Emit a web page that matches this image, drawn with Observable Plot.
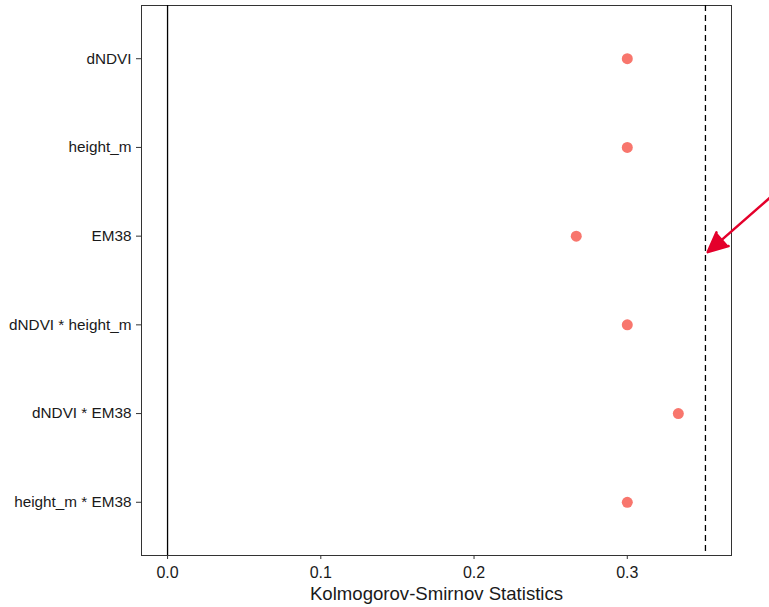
<!DOCTYPE html>
<html><head><meta charset="utf-8">
<script src="https://cdn.jsdelivr.net/npm/d3@7"></script>
<script src="https://cdn.jsdelivr.net/npm/@observablehq/plot@0.6"></script>
<style>body{margin:0;background:#fff;}</style>
</head><body><div id="chart"></div>
<script>
const variables = ["dNDVI", "height_m", "EM38", "dNDVI * height_m", "dNDVI * EM38", "height_m * EM38"];
const ksValues = [0.3, 0.3, 0.2667, 0.3, 0.3333, 0.3];
const thresholdValue = 0.351;
const xTicks = [0, 0.1, 0.2, 0.3];
const xTickLabels = ["0.0", "0.1", "0.2", "0.3"];
const arrowFrom = [0.3935, 2.56];
const arrowTo = [0.3525, 3.18];

const data = variables.map((v, i) => ({variable: v, pos: i + 1, ks: ksValues[i]}));

const chart = Plot.plot({
  width: 769, height: 607,
  marginLeft: 141, marginRight: 38, marginTop: 5, marginBottom: 52,
  style: {fontFamily: "'Liberation Sans', Arial, sans-serif", background: "#fff", color: "#1a1a1a"},
  x: {domain: [-0.017, 0.368]},
  y: {domain: [0.4, 6.6], reverse: true},
  marks: [
    Plot.frame({stroke: "#333", strokeWidth: 1}),
    Plot.ruleX([0], {stroke: "#000", strokeWidth: 1.3}),
    Plot.ruleX([thresholdValue], {stroke: "#000", strokeWidth: 1.3, strokeDasharray: "6,4"}),
    Plot.dot(data, {x: "ks", y: "pos", r: 5.5, fill: "#F8766D", stroke: null}),
    Plot.axisY({ticks: d3.range(1, variables.length + 1), tickFormat: d => variables[d - 1],
      tickSize: 5, tickPadding: 5, fontSize: 15.3, stroke: "#333", label: null}),
    Plot.axisX({ticks: xTicks, tickFormat: d => xTickLabels[xTicks.indexOf(d)],
      tickSize: 4, tickPadding: 7, fontSize: 16, stroke: "#333", label: null}),
    Plot.axisX({ticks: [], label: "Kolmogorov-Smirnov Statistics", labelAnchor: "center",
      labelArrow: "none", labelOffset: 44, fontSize: 18.6, tickSize: 0}),
    Plot.arrow([{x1: arrowFrom[0], y1: arrowFrom[1], x2: arrowTo[0], y2: arrowTo[1]}],
      {x1: "x1", y1: "y1", x2: "x2", y2: "y2", stroke: "#E4002B", fill: "#E4002B",
       strokeWidth: 2.5, headLength: 13, headAngle: 50, strokeLinejoin: "miter"})
  ]
});
document.getElementById("chart").appendChild(chart);
</script>
</body></html>
